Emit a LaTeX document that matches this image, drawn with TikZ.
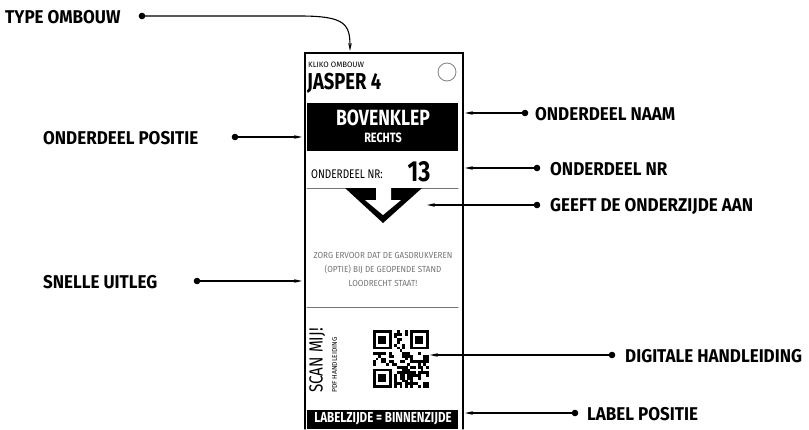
\documentclass[tikz,border=0pt]{standalone}
\usepackage{fontspec}
\setmainfont{Fira Sans}
\newfontfamily\condfont{Fira Sans}[FakeStretch=0.92]
\newfontfamily\narrowfont{Fira Sans}[FakeStretch=0.8]
\usetikzlibrary{arrows.meta}
\definecolor{labelgray}{gray}{0.45}

\begin{document}
\begin{tikzpicture}[x=1pt,y=-1pt,>={Stealth[length=8pt,width=3.6pt]},line cap=round,
  callout/.style={font=\condfont\bfseries\fontsize{18.5}{18.5}\selectfont,inner sep=0pt},
  pointer/.style={->,line width=1.1pt},
  tag/.style={inner sep=0pt,font=\narrowfont}]
\useasboundingbox (0,0) rectangle (809,429);

% label outline
\draw[line width=1.2pt] (305,429) -- (305,53) -- (463,53) -- (463,429);
\node[tag,anchor=west,font=\fontsize{7.8}{8}\selectfont] (kliko) at (308,65) {KLIKO OMBOUW};
\node[tag,anchor=west,font=\narrowfont\bfseries\fontsize{23}{23}\selectfont] (jasper) at (307,83) {JASPER 4};
\draw[gray,line width=0.8pt] (447,72) circle (9);
\fill (307,103) rectangle (458,151);
\node[tag,text=white,font=\narrowfont\bfseries\fontsize{22}{22}\selectfont] (partname) at (383,118) {BOVENKLEP};
\node[tag,text=white,font=\narrowfont\bfseries\fontsize{13.5}{13.5}\selectfont] (side) at (383,138) {RECHTS};
\node[tag,anchor=west,font=\narrowfont\fontsize{12.5}{12.5}\selectfont] (nrtxt) at (311,174) {ONDERDEEL NR:};
\node[tag,font=\narrowfont\bfseries\fontsize{29}{29}\selectfont] (nr) at (419,172) {13};
\draw[labelgray,line width=1pt] (307,188) -- (458,188);
% onderzijde pijl
\fill (345,188) -- (422,188) -- (383,223) -- cycle;
\fill[white] (376,188) -- (391,188) -- (391,200) -- (401,200) -- (383,215) -- (365,200) -- (376,200) -- cycle;
\node[tag,align=center,text=labelgray,font=\condfont\fontsize{8.8}{14}\selectfont] (uitleg) at (383,269)
  {ZORG ERVOOR DAT DE GASDRUKVEREN\\(OPTIE) BIJ DE GEOPENDE STAND\\LOODRECHT STAAT!};
\draw[labelgray,line width=1pt] (307,307) -- (458,307);
\node[tag,rotate=90,anchor=north west,font=\narrowfont\fontsize{19}{19}\selectfont] (scan) at (309,393) {SCAN MIJ!};
\node[tag,rotate=90,anchor=north west,font=\fontsize{6.8}{7}\selectfont] (pdf) at (332,393) {PDF HANDLEIDING};
% qr code
\pgfmathsetseed{11}
\foreach \i in {0,...,20}{
  \foreach \j in {0,...,20}{
    \pgfmathtruncatemacro\finder{(\i<8 && \j<8) || (\i>12 && \j<8) || (\i<8 && \j>12)}
    \pgfmathtruncatemacro\bit{rnd<0.5}
    \ifnum\finder=0 \ifnum\bit=1
      \fill (373+\i*2.65,330+\j*2.75) rectangle ++(2.75,2.85);
    \fi\fi
  }
}
\foreach \qx/\qy in {0/0,14/0,0/14}{
  \fill (373+\qx*2.65,330+\qy*2.75) rectangle ++(7*2.65,7*2.75);
  \fill[white] (373+\qx*2.65+2.65,330+\qy*2.75+2.75) rectangle ++(5*2.65,5*2.75);
  \fill (373+\qx*2.65+5.3,330+\qy*2.75+5.5) rectangle ++(3*2.65,3*2.75);
}
\fill (307,410) rectangle (458,429);
\node[tag,text=white,font=\narrowfont\bfseries\fontsize{14.5}{14.5}\selectfont] (binnen) at (383,419) {LABELZIJDE = BINNENZIJDE};

% callouts
\coordinate (typeDot) at (142,16);
\coordinate (typeEnd) at (350,51);
\coordinate (posDot) at (235,137);
\coordinate (posEnd) at (302,137);
\coordinate (uitlegDot) at (197,281);
\coordinate (uitlegEnd) at (302,281);
\coordinate (naamDot) at (525,113);
\coordinate (naamEnd) at (465,113);
\coordinate (nrDot) at (537,168);
\coordinate (nrEnd) at (465,168);
\coordinate (onderDot) at (537,205);
\coordinate (onderEnd) at (427,205);
\coordinate (qrDot) at (612,355);
\coordinate (qrEnd) at (430,355);
\coordinate (labelDot) at (575,413);
\coordinate (labelEnd) at (465,413);

\node[callout,anchor=west] (type) at (5,17) {TYPE OMBOUW};
\node[callout,anchor=west] (positie) at (43,138) {ONDERDEEL POSITIE};
\node[callout,anchor=west] (snel) at (43,282) {SNELLE UITLEG};
\node[callout,anchor=west] (naam) at (535,114) {ONDERDEEL NAAM};
\node[callout,anchor=west] (nummer) at (550,169) {ONDERDEEL NR};
\node[callout,anchor=west] (onder) at (550,206) {GEEFT DE ONDERZIJDE AAN};
\node[callout,anchor=west] (digitaal) at (625,356) {DIGITALE HANDLEIDING};
\node[callout,anchor=west] (positie2) at (587,414) {LABEL POSITIE};

\foreach \p in {typeDot,posDot,uitlegDot,naamDot,nrDot,onderDot,qrDot,labelDot}
  \fill (\p) circle (3.3);
\draw[pointer] (typeDot) -- (300,16) .. controls (345,16) and (350,24) .. (typeEnd);
\draw[pointer] (posDot) -- (posEnd);
\draw[pointer] (uitlegDot) -- (uitlegEnd);
\draw[pointer] (naamDot) -- (naamEnd);
\draw[pointer] (nrDot) -- (nrEnd);
\draw[pointer] (onderDot) -- (onderEnd);
\draw[pointer] (qrDot) -- (qrEnd);
\draw[pointer] (labelDot) -- (labelEnd);
\end{tikzpicture}
\end{document}
